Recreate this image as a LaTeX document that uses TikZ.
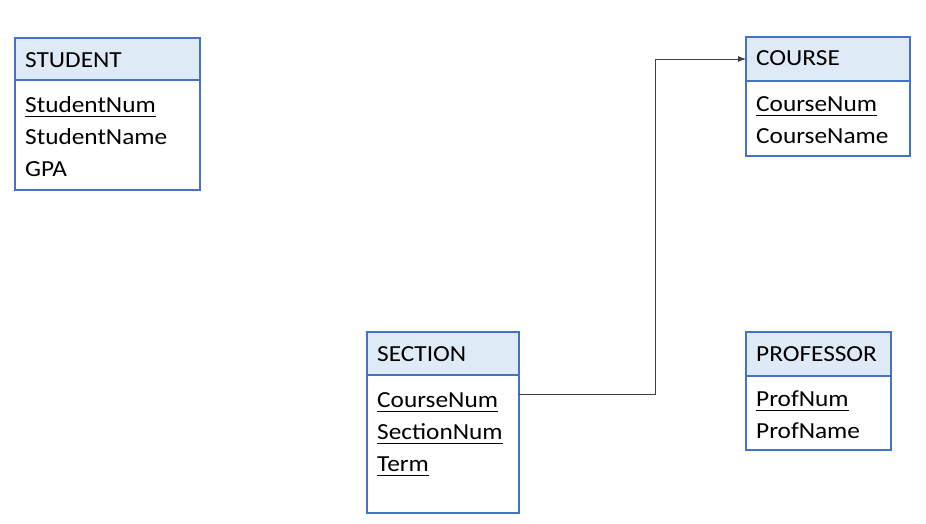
\documentclass[tikz,border=0pt]{standalone}
\usepackage{fontspec}
\setmainfont{Carlito}[FakeStretch=1.1]
\usetikzlibrary{positioning,arrows.meta}
\definecolor{erblue}{RGB}{68,114,196}
\definecolor{erfill}{RGB}{222,235,247}
\definecolor{erline}{RGB}{64,64,64}
\newsavebox\pkeybox
\newcommand\pkey[1]{\sbox\pkeybox{#1}\rlap{\rule[-4.4pt]{\wd\pkeybox}{1.4pt}}\usebox\pkeybox}

\begin{document}
\begin{tikzpicture}[x=1pt,y=1pt,>={Latex[length=8pt,width=6pt]}]
      \tikzset{
	  head/.style 2 args={draw=erblue, fill=erfill, line width=1.2pt, outer sep=0pt, inner sep=0pt, anchor=north west, minimum width=#1, minimum height=#2},
	  body/.style 2 args={draw=erblue, fill=white, line width=1.2pt, outer sep=0pt, inner sep=0pt, minimum width=#1, minimum height=#2},
	  title/.style={anchor=base west, inner sep=0pt, text=black, font=\fontsize{23}{28}\selectfont},
	  attr/.style={title},
	  link/.style={draw=erline, line width=0.8pt},
      }
      \useasboundingbox (0,0) rectangle (926,524);

      % student
      \node[head={185pt}{42pt}] (shead) at (15,486) {};
      \node[body={185pt}{110pt}, below=0pt of shead] (sbody) {};
      \node[title] (stitle) at ([xshift=10pt,yshift=-30pt]shead.north west) {STUDENT};
      \node[attr] (snum) at ([xshift=10pt,yshift=-33pt]sbody.north west) {\pkey{StudentNum}};
      \node[attr] (sname) at ([yshift=-32pt]snum.base west) {StudentName};
      \node[attr] (sgpa) at ([yshift=-32pt]sname.base west) {GPA};

      % course
      \node[head={164pt}{44pt}] (chead) at (746,487) {};
      \node[body={164pt}{75pt}, below=0pt of chead] (cbody) {};
      \node[title] (ctitle) at ([xshift=10pt,yshift=-29pt]chead.north west) {COURSE};
      \node[attr] (cnum) at ([xshift=10pt,yshift=-31pt]cbody.north west) {\pkey{CourseNum}};
      \node[attr] (cname) at ([yshift=-32pt]cnum.base west) {CourseName};

      % section
      \node[head={152pt}{43pt}] (sechead) at (367,192) {};
      \node[body={152pt}{138pt}, below=0pt of sechead] (secbody) {};
      \node[title] (sectitle) at ([xshift=10pt,yshift=-30pt]sechead.north west) {SECTION};
      \node[attr] (seccnum) at ([xshift=10pt,yshift=-33pt]secbody.north west) {\pkey{CourseNum}};
      \node[attr] (secnum) at ([yshift=-32pt]seccnum.base west) {\pkey{SectionNum}};
      \node[attr] (secterm) at ([yshift=-32pt]secnum.base west) {\pkey{Term}};

      % professor
      \node[head={145pt}{44pt}] (phead) at (746,192) {};
      \node[body={145pt}{74pt}, below=0pt of phead] (pbody) {};
      \node[title] (ptitle) at ([xshift=10pt,yshift=-30pt]phead.north west) {PROFESSOR};
      \node[attr] (pnum) at ([xshift=10pt,yshift=-31pt]pbody.north west) {\pkey{ProfNum}};
      \node[attr] (pname) at ([yshift=-32pt]pnum.base west) {ProfName};

      % foreign key
      \coordinate (fk) at ([yshift=14pt]seccnum.base -| secbody.east);
      \draw[link,->] (fk) -- ++(136,0) |- (chead.west);
\end{tikzpicture}
\end{document}
